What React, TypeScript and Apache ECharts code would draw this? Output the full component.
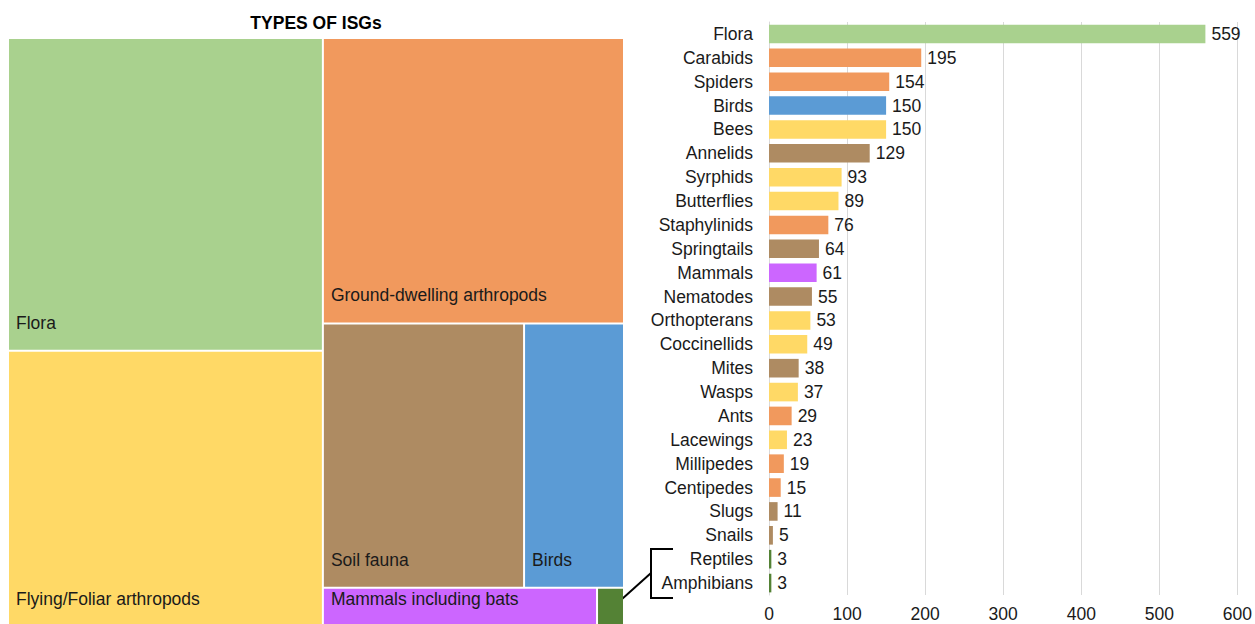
import React, { useEffect, useRef } from "react";
import * as echarts from "echarts";

const FONT = "'Liberation Sans', Arial, sans-serif";

const categories = [
  "Flora", "Carabids", "Spiders", "Birds", "Bees", "Annelids", "Syrphids", "Butterflies",
  "Staphylinids", "Springtails", "Mammals", "Nematodes", "Orthopterans", "Coccinellids",
  "Mites", "Wasps", "Ants", "Lacewings", "Millipedes", "Centipedes", "Slugs", "Snails",
  "Reptiles", "Amphibians",
];
const values = [559, 195, 154, 150, 150, 129, 93, 89, 76, 64, 61, 55, 53, 49, 38, 37, 29, 23, 19, 15, 11, 5, 3, 3];
const groupOf = [
  "flora", "ground", "ground", "birds", "flying", "soil", "flying", "flying",
  "ground", "soil", "mammals", "soil", "flying", "flying",
  "soil", "flying", "ground", "flying", "ground", "ground", "soil", "soil",
  "herps", "herps",
];
const groupKeys = ["flora", "ground", "flying", "soil", "birds", "mammals", "herps"];
const groupLabels = [
  "Flora", "Ground-dwelling arthropods", "Flying/Foliar arthropods", "Soil fauna",
  "Birds", "Mammals including bats", "Reptiles and amphibians",
];
const groupColors = ["#A9D18E", "#F1995D", "#FFD966", "#AE8B62", "#5B9BD5", "#CC66FF", "#548235"];
const groupLabelShown = [true, true, true, true, true, true, false];
const treemapTitle = "TYPES OF ISGs";
const xTicks = { min: 0, max: 600, interval: 100 };

export default function App() {
  const ref = useRef<HTMLDivElement>(null);
  useEffect(() => {
    if (!ref.current) return;
    const chart = echarts.init(ref.current, null, { renderer: "svg" });

    const colorOf = (g: string) => groupColors[groupKeys.indexOf(g)];
    const treeData = groupKeys.map((k, i) => ({
      name: groupLabels[i],
      value: values.reduce((s, v, j) => (groupOf[j] === k ? s + v : s), 0),
      itemStyle: { color: groupColors[i] },
      label: { show: groupLabelShown[i] },
    }));

    chart.setOption({
      animation: false,
      title: {
        text: treemapTitle,
        left: 316,
        top: 14,
        padding: 0,
        textAlign: "center",
        textStyle: { fontSize: 17.5, fontWeight: "bold", color: "#000", fontFamily: FONT },
      },
      grid: { left: 769, right: 13, top: 22, bottom: 29, containLabel: false },
      xAxis: {
        type: "value",
        min: xTicks.min,
        max: xTicks.max,
        interval: xTicks.interval,
        axisLine: { show: false },
        axisTick: { show: false },
        splitLine: { lineStyle: { color: "#D9D9D9", width: 1 } },
        axisLabel: { fontSize: 17.5, color: "#1a1a1a", fontFamily: FONT, margin: 10 },
      },
      yAxis: {
        type: "category",
        inverse: true,
        data: categories,
        axisLine: { show: true, lineStyle: { color: "#D9D9D9", width: 1 } },
        axisTick: { show: false },
        axisLabel: { fontSize: 17.5, color: "#1a1a1a", fontFamily: FONT, margin: 16, interval: 0 },
      },
      series: [
        {
          type: "treemap",
          left: 9,
          top: 39,
          width: 614,
          height: 587,
          squareRatio: 1.4,
          roam: false,
          nodeClick: false,
          breadcrumb: { show: false },
          itemStyle: { gapWidth: 2, borderWidth: 0, borderColor: "#fff" },
          label: {
            show: true,
            position: "insideBottomLeft",
            distance: 2,
            offset: [0, -11],
            fontSize: 17.5,
            lineHeight: 18,
            color: "#1a1a1a",
            fontFamily: FONT,
            formatter: "{b}",
          },
          emphasis: { disabled: true },
          data: treeData,
        },
        {
          type: "bar",
          barCategoryGap: "22%",
          data: values.map((v, i) => ({ value: v, itemStyle: { color: colorOf(groupOf[i]) } })),
          label: {
            show: true,
            position: "right",
            distance: 6,
            fontSize: 17.5,
            color: "#1a1a1a",
            fontFamily: FONT,
          },
        },
      ],
      graphic: [
        {
          type: "polyline",
          shape: { points: [[673, 549], [651, 549], [651, 598], [673, 598]] },
          style: { stroke: "#000", lineWidth: 2, fill: "none" },
        },
        {
          type: "line",
          shape: { x1: 651, y1: 573, x2: 612, y2: 608 },
          style: { stroke: "#000", lineWidth: 2 },
        },
      ],
    });
    return () => chart.dispose();
  }, []);
  return <div ref={ref} style={{ position: "absolute", left: 0, top: 0, width: 1255, height: 624 }} />;
}
